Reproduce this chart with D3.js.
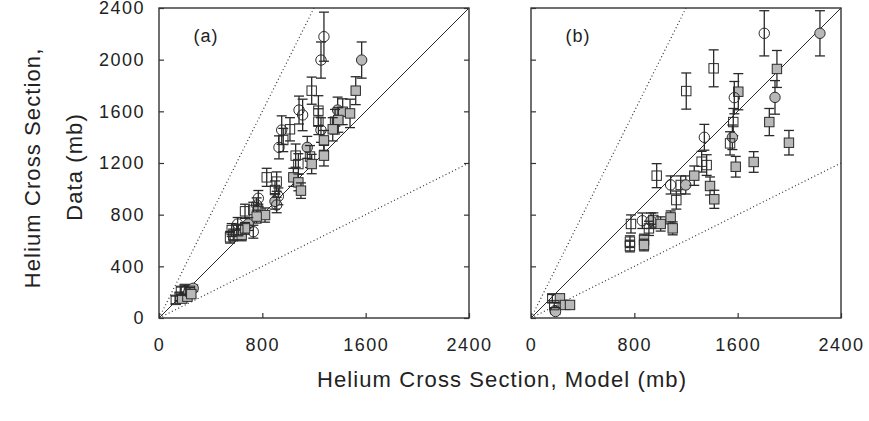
<!DOCTYPE html>
<html><head><meta charset="utf-8">
<script src="https://cdn.jsdelivr.net/npm/d3@7"></script>
<style>
body{margin:0;background:#fff;}
text{font-family:"Liberation Sans",Arial,sans-serif;fill:#222;}
</style></head>
<body><svg id="c" width="869" height="421"></svg>
<script>
// ---- data: model (x), data (y), error, marker kind ----
// kinds: oc open circle, fc filled circle, os open square, fs filled square
const aModel = [1277,1254,1569,1182,1523,1084,1112,1234,1234,1383,1422,1479,1363,1388,1345,1254,1014,950,962,929,1148,1277,1058,1169,1277,1079,1182,834,911,898,1040,1079,1099,924,898,769,756,911,666,769,821,730,756,691,609,730,563,575,640,666,550,614,130,160,180,220,170,200,230,210,265,240,250];
const aData  = [2178,1997,1997,1760,1760,1610,1572,1605,1520,1610,1597,1584,1520,1533,1461,1455,1461,1455,1378,1321,1321,1375,1257,1250,1257,1192,1192,1089,1056,991,1089,1050,986,942,903,927,875,875,826,826,797,836,785,728,728,668,681,643,643,694,625,681,140,165,150,165,210,225,200,215,230,210,185];
const aErr   = [190,140,140,105,108,108,122,116,100,100,100,110,95,95,90,95,90,110,90,89,85,77,90,85,80,80,75,70,75,70,70,65,60,65,60,60,55,60,55,55,55,60,50,50,50,50,50,45,45,45,45,45,30,30,25,25,30,30,25,30,25,25,25];
const aKind  = ["oc","oc","fc","os","fs","oc","oc","os","os","fc","fs","fs","fs","fs","fs","oc","os","oc","os","oc","fc","fs","os","os","fs","os","fs","os","os","os","fs","fs","fs","oc","fc","oc","oc","oc","os","fs","fs","os","fs","fc","oc","oc","os","os","fs","fs","os","os","os","os","fs","fs","os","os","fc","oc","fc","os","fs"];

const bModel = [1806,2237,1414,1904,1202,1605,1574,1889,1566,1845,1559,1342,1541,1997,1321,1360,1585,1724,973,1081,1159,1198,1264,1386,1419,1125,774,862,929,913,947,1004,1081,1097,766,766,875,875,165,224,263,302,186,190,180];
const bData  = [2204,2204,1933,1928,1757,1752,1706,1708,1517,1517,1399,1399,1352,1357,1210,1184,1171,1208,1102,1030,1030,1030,1102,1022,919,913,728,753,753,694,759,728,779,694,591,557,604,565,152,152,101,101,57,50,100];
const bErr   = [175,175,143,143,140,140,125,130,105,105,95,100,90,95,80,80,80,80,93,70,70,70,75,70,70,70,70,60,60,55,55,55,50,50,45,45,45,45,30,30,20,20,20,20,20];
const bKind  = ["oc","fc","os","fs","os","fs","oc","fc","os","fs","fc","oc","os","fs","os","os","fs","fs","os","oc","os","fc","fs","fs","fs","os","os","oc","fc","os","os","fs","fs","fs","os","os","fs","fs","os","fs","fs","fs","oc","fc","os"];

const xTicks = [0,800,1600,2400];
const yTicks = [0,400,800,1200,1600,2000,2400];
const panels = [
  {label:"(a)", model:aModel, data:aData, err:aErr, kind:aKind, left:159, yLabels:true, rightTicks:true},
  {label:"(b)", model:bModel, data:bData, err:bErr, kind:bKind, left:531, yLabels:false, rightTicks:false}
];

const svg = d3.select("#c");
const W = 310, plotTop = 8, plotBottom = 318;
const y = d3.scaleLinear().domain([0,2400]).range([plotBottom, plotTop]);
const ink = "#2a2a2a";
const fmt = d3.format("d");

panels.forEach(p => {
  const x = d3.scaleLinear().domain([0,2400]).range([p.left, p.left + W]);
  const g = svg.append("g");
  const clipId = "clip" + p.label.replace(/\W/g,"");
  svg.append("clipPath").attr("id", clipId).append("rect")
    .attr("x", p.left).attr("y", plotTop).attr("width", W).attr("height", plotBottom - plotTop);

  // reference lines: y = x (solid), y = 2x and y = x/2 (dotted)
  const lines = g.append("g").attr("clip-path", `url(#${clipId})`);
  lines.append("line").attr("x1", x(0)).attr("y1", y(0)).attr("x2", x(2400)).attr("y2", y(2400))
    .attr("stroke", ink).attr("stroke-width", 1);
  lines.append("line").attr("x1", x(0)).attr("y1", y(0)).attr("x2", x(1200)).attr("y2", y(2400))
    .attr("stroke", "#333").attr("stroke-width", 1.2).attr("stroke-dasharray", "1,2.6");
  lines.append("line").attr("x1", x(0)).attr("y1", y(0)).attr("x2", x(2400)).attr("y2", y(1200))
    .attr("stroke", "#333").attr("stroke-width", 1.2).attr("stroke-dasharray", "1,2.6");

  // points with error bars
  const pts = g.append("g");
  const cap = 5;
  d3.range(p.model.length).forEach(i => {
    const cx = x(p.model[i]), cy = y(p.data[i]);
    const y1 = y(p.data[i] + p.err[i]), y2 = y(p.data[i] - p.err[i]);
    const pg = pts.append("g");
    pg.append("line").attr("x1", cx).attr("x2", cx).attr("y1", y1).attr("y2", y2)
      .attr("stroke", ink).attr("stroke-width", 1.3);
    [y1, y2].forEach(yy => pg.append("line").attr("x1", cx - cap).attr("x2", cx + cap)
      .attr("y1", yy).attr("y2", yy).attr("stroke", ink).attr("stroke-width", 1.3));
    const k = p.kind[i];
    const fill = k[0] === "f" ? "#b8b8b8" : "none";
    if (k[1] === "c") {
      pg.append("circle").attr("cx", cx).attr("cy", cy).attr("r", 5.2)
        .attr("fill", fill).attr("stroke", ink).attr("stroke-width", 1);
    } else {
      pg.append("rect").attr("x", cx - 4.7).attr("y", cy - 4.7).attr("width", 9.4).attr("height", 9.4)
        .attr("fill", fill).attr("stroke", ink).attr("stroke-width", 1);
    }
  });

  // frame
  g.append("rect").attr("x", p.left).attr("y", plotTop).attr("width", W).attr("height", plotBottom - plotTop)
    .attr("fill", "none").attr("stroke", "#333").attr("stroke-width", 1.4);

  // axes
  g.append("g").attr("transform", `translate(0,${plotBottom})`)
    .call(d3.axisBottom(x).tickValues(xTicks).tickSizeInner(-5).tickSizeOuter(0).tickPadding(20).tickFormat(fmt));
  g.append("g").attr("transform", `translate(${p.left},0)`)
    .call(d3.axisLeft(y).tickValues(yTicks).tickSizeInner(-5).tickSizeOuter(0).tickPadding(14)
      .tickFormat(p.yLabels ? fmt : () => ""));
  if (p.rightTicks) {
    g.append("g").attr("transform", `translate(${p.left + W},0)`)
      .call(d3.axisRight(y).tickValues(yTicks).tickSizeInner(-5).tickSizeOuter(0).tickFormat(() => ""));
  }
  g.selectAll(".domain").remove();
  g.selectAll(".tick line").attr("stroke", "#333").attr("stroke-width", 1.2);
  g.selectAll(".tick text").attr("font-size", 18).attr("letter-spacing", "1.5px")
    .attr("fill", "#222").attr("font-family", '"Liberation Sans", Arial, sans-serif');

  g.append("text").attr("x", p.left + 47).attr("y", 42).attr("text-anchor", "middle")
    .attr("font-size", 18).attr("letter-spacing", "1px").text(p.label);
});

// axis titles
svg.append("text").attr("x", 502).attr("y", 387).attr("text-anchor", "middle")
  .attr("font-size", 22).attr("letter-spacing", "1.1px").text("Helium Cross Section, Model (mb)");
svg.append("text").attr("transform", "translate(40,168) rotate(-90)").attr("text-anchor", "middle")
  .attr("font-size", 22).attr("letter-spacing", "1.1px").text("Helium Cross Section,");
svg.append("text").attr("transform", "translate(82,167) rotate(-90)").attr("text-anchor", "middle")
  .attr("font-size", 22).attr("letter-spacing", "1.1px").text("Data (mb)");
</script></body></html>
